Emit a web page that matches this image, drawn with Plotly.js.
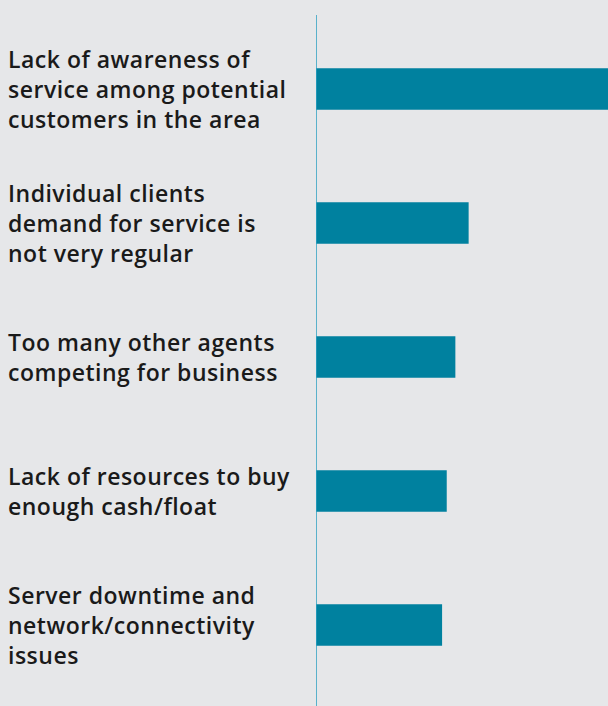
<!DOCTYPE html>
<html>
<head>
<meta charset="utf-8">
<script src="https://cdn.plot.ly/plotly-3.0.1.min.js"></script>
<style>html,body{margin:0;padding:0;background:#e6e7e9;}#chart{width:608px;height:706px;}
#chart .annotation-text{letter-spacing:0.5px;}</style>
</head>
<body>
<div id="chart"></div>
<script>
const categories = [
  "Lack of awareness of<br>service among potential<br>customers in the area",
  "Individual clients<br>demand for service is<br>not very regular",
  "Too many other agents<br>competing for business",
  "Lack of resources to buy<br>enough cash/float",
  "Server downtime and<br>network/connectivity<br>issues"
];
const values = [44, 23, 21, 19.7, 19];

const trace = {
  type: 'bar',
  orientation: 'h',
  x: values,
  y: categories,
  marker: {color: '#00819f'},
  hoverinfo: 'none'
};

const annotations = categories.map(c => ({
  xref: 'paper', yref: 'y',
  x: 0, y: c,
  xanchor: 'left', yanchor: 'middle',
  xshift: -310,
  align: 'left',
  showarrow: false,
  text: c,
  font: {family: 'Open Sans, sans-serif', size: 23, color: '#1a1a1a', weight: 600}
}));

const layout = {
  width: 608, height: 706,
  margin: {l: 316, r: 0, t: 22, b: 14, pad: 0},
  paper_bgcolor: '#e6e7e9',
  plot_bgcolor: '#e6e7e9',
  bargap: 0.69,
  showlegend: false,
  xaxis: {range: [0, 44], showgrid: false, zeroline: false, showticklabels: false, showline: false, fixedrange: true},
  yaxis: {autorange: 'reversed', showgrid: false, zeroline: false, showticklabels: false, showline: false, fixedrange: true},
  shapes: [{
    type: 'line', xref: 'x', yref: 'paper',
    x0: 0, x1: 0, y0: -0.021, y1: 1.0105,
    line: {color: '#2a9fc0', width: 1.5}
  }],
  annotations: annotations
};

Plotly.newPlot('chart', [trace], layout, {displayModeBar: false, staticPlot: true});
</script>
</body>
</html>
